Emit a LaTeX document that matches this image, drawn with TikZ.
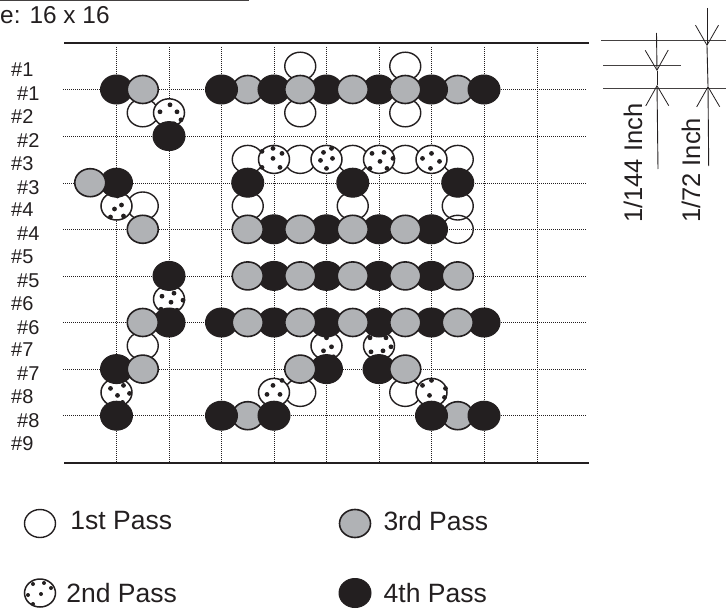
\documentclass[tikz,border=0pt]{standalone}
\usepackage{xcolor}
\usepackage{fontspec}
\setmainfont{Liberation Sans}
\usepackage{tikz}
\usetikzlibrary{positioning,arrows.meta,shapes.geometric}
\definecolor{ink}{HTML}{231F20}
\definecolor{passgray}{HTML}{B0B2B5}
\tikzset{
  passdot/.style={ellipse, draw=ink, line width=1.4pt, minimum width=31pt, minimum height=28pt, inner sep=0pt},
  passone/.style={passdot},
  passtwo/.style={passdot, fill=white, line width=1.5pt},
  passthree/.style={passdot, fill=passgray, line width=1.6pt},
  passfour/.style={passdot, fill=ink, line width=1pt, minimum width=32pt, minimum height=29pt},
  speck/.style={fill=ink},
  gridline/.style={draw=ink, line width=0.9pt, dash pattern=on 1.1pt off 0.9pt},
  rulebar/.style={draw=ink, line width=2pt},
  thinbar/.style={draw=ink!85, line width=1pt},
  dimarrow/.style={-{Straight Barb[length=20pt,width=23pt,line width=0.8pt]}, draw=ink, line width=0.9pt},
  rowlabel/.style={inner sep=0pt, anchor=west, text=ink, font=\fontsize{20}{22}\selectfont},
  passlabel/.style={inner sep=0pt, text=ink, font=\fontsize{26.5}{30}\selectfont},
  dimlabel/.style={inner sep=0pt, rotate=90, text=ink, font=\fontsize{25.5}{30}\selectfont}
}
\begin{document}
\begin{tikzpicture}[x=1pt,y=-1pt]
  \useasboundingbox (0,0) rectangle (726,610);
  % title and rules
  \coordinate (titleleft) at (0,1);
  \coordinate (titleright) at (249,1);
  \draw[thinbar] (titleleft) -- (titleright);
  \node[passlabel, anchor=base west, font=\fontsize{24.4}{28}\selectfont] (title) at (0,23.5) {e: 16 x 16};
  \coordinate (topleft) at (64,43);
  \coordinate (topright) at (589,43);
  \coordinate (botleft) at (64,463);
  \coordinate (botright) at (589,463);
  \draw[rulebar] (topleft) -- (topright);
  \draw[rulebar] (botleft) -- (botright);
  % grid
  \foreach \x in {116.5,169,221,274,326,379,431.5,484,537}
    \draw[gridline] (\x,47) -- (\x,462);
  \foreach \y in {89.5,136,183,229.5,276,322.5,369,415.5}
    \draw[gridline] (63,\y) -- (586,\y);
  % row labels
  \foreach \n in {1,...,9}
    \node[rowlabel] (leftrow\n) at (11,{70+46.65*(\n-1)}) {\#\n};
  \foreach \n in {1,...,8}
    \node[rowlabel] (rightrow\n) at (17,{94+46.65*(\n-1)}) {\#\n};
  % dots: half cell lattice
  \begin{scope}[shift={(116.5,89.5)},x=26.25pt,y=-23.3pt]
    \foreach \k/\r in {7/-1,11/-1,1/1,7/1,11/1,5/3,7/3,9/3,11/3,13/3,1/5,5/5,9/5,13/5,13/6,1/11,7/13,11/13}
      \node[passone] (one-\k-\r) at (\k,\r) {};
    \foreach \k/\r/\spots in {
      2/1/{1/-8,8/-1,-9/-1,12/7,5/11},
      6/3/{-1/-11,-12/-8,8/-6,-1/-1,-12/8,6/8},
      8/3/{-3/-7,5/-11,6/-1,-6/1,0/9},
      10/3/{-7/-6,5/-7,14/-1,1/2,-9/9,8/9},
      12/3/{0/-6,-9/-1,8/2,-1/9},
      0/5/{1/-10,5/-1,-2/3,-6/11,7/10},
      2/9/{-7/-3,5/-6,2/3,14/1,-8/10,8/11},
      8/11/{0/-8,5/1,-3/5,7/11},
      10/11/{-9/-8,7/-8,12/1,4/5,-8/6},
      0/13/{-6/-4,7/-7,1/3,13/1,6/10},
      6/13/{-1/-7,8/-12,-7/2,6/2,-2/11},
      12/13/{-9/-7,0/-12,-2/3,14/-4,13/5}}{
      \node[passtwo] (two-\k-\r) at (\k,\r) {};
      \foreach \dx/\dy in \spots
        \fill[speck] ([xshift=\dx pt,yshift=-\dy pt]\k,\r) circle (2.4pt);
    }
    \foreach \k/\r in {5/0,13/0,5/14,13/14}
      \node[passthree] (three-\k-\r) at (\k,\r) {};
    \foreach \k/\r in {0/0,4/0,6/0,8/0,10/0,12/0,14/0,2/2,0/4,5/4,9/4,13/4,6/6,8/6,10/6,12/6,2/8,6/8,8/8,10/8,12/8,2/10,4/10,6/10,8/10,10/10,12/10,14/10,0/12,8/12,10/12,0/14,4/14,6/14,12/14,14/14}
      \node[passfour] (four-\k-\r) at (\k,\r) {};
    \foreach \k/\r in {1/0,7/0,9/0,11/0,-1/4,1/6,5/6,7/6,9/6,11/6,5/8,7/8,9/8,11/8,13/8,1/10,5/10,7/10,9/10,11/10,13/10,1/12,7/12,11/12}
      \node[passthree] (three-\k-\r) at (\k,\r) {};
  \end{scope}
  % legend
  \node[passone] (keyone) at (40,523.5) {};
  \node[passlabel, right=14pt of keyone, yshift=2.5pt] (keyonetext) {1st Pass};
  \node[passtwo] (keytwo) at (40,593) {};
  \foreach \dx/\dy in {-7/-9,4/-10,11/-5,1/1,-12/2,-7/11}
    \fill[speck] ([xshift=\dx pt,yshift=-\dy pt]keytwo.center) circle (2pt);
  \node[passlabel, right=10pt of keytwo] (keytwotext) {2nd Pass};
  \node[passthree] (keythree) at (355,523.5) {};
  \node[passlabel, right=12pt of keythree, yshift=2.5pt] (keythreetext) {3rd Pass};
  \node[passfour] (keyfour) at (355,593) {};
  \node[passlabel, right=12pt of keyfour] (keyfourtext) {4th Pass};
  % dimension marks
  \coordinate (barhighl) at (601,41);
  \coordinate (barhighr) at (726,41);
  \coordinate (barmidl) at (603,66);
  \coordinate (barmidr) at (681,66);
  \coordinate (barlowl) at (603,89);
  \coordinate (barlowr) at (726,89);
  \draw[thinbar] (barhighl) -- (barhighr);
  \draw[thinbar] (barmidl) -- (barmidr);
  \draw[thinbar] (barlowl) -- (barlowr);
  \coordinate (smalltop) at (656.5,33);
  \coordinate (smalltipa) at (657,71);
  \coordinate (smalltipb) at (657,85);
  \coordinate (smallend) at (658,169);
  \draw[dimarrow] (smalltop) -- (smalltipa);
  \draw[dimarrow] (smallend) -- (smalltipb);
  \draw[draw=ink, line width=0.9pt] (smalltipa) -- (smalltipb);
  \coordinate (bigtop) at (707,8);
  \coordinate (bigtipa) at (707,46);
  \coordinate (bigtipb) at (708,86);
  \coordinate (bigend) at (708.7,166);
  \draw[dimarrow] (bigtop) -- (bigtipa);
  \draw[dimarrow] (bigend) -- (bigtipb);
  \draw[draw=ink, line width=0.9pt] (bigtipa) -- (bigtipb);
  \node[dimlabel, anchor=west] (smalltext) at (633,223) {1/144 Inch};
  \node[dimlabel, anchor=west] (bigtext) at (691,223) {1/72 Inch};
\end{tikzpicture}
\end{document}
